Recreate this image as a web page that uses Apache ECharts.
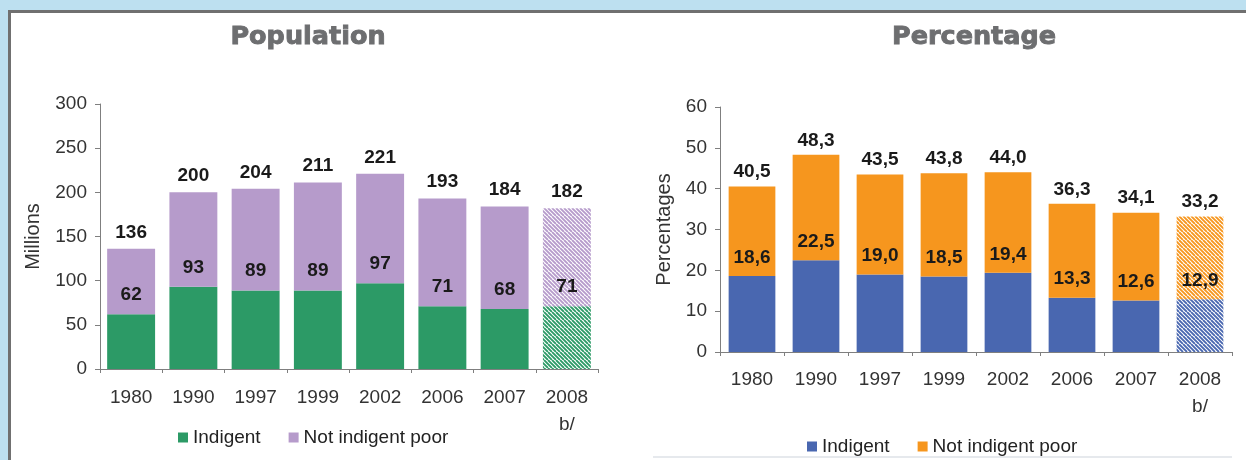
<!DOCTYPE html>
<html><head><meta charset="utf-8">
<script src="https://cdn.jsdelivr.net/npm/echarts@6/dist/echarts.min.js"></script>
<style>
html,body{margin:0;padding:0;width:1246px;height:460px;overflow:hidden;background:#bde0f0;}
#panel{position:absolute;left:8px;top:10px;right:0;bottom:0;background:#fff;border-left:3px solid #707070;border-top:3px solid #707070;}
#c1{position:absolute;left:0;top:0;width:623px;height:460px;}
#c2{position:absolute;left:623px;top:0;width:623px;height:460px;}
</style></head><body>
<div id="panel"></div>
<div id="c1"></div>
<div id="c2"></div>
<script>
// ---- data ----
const years = ['1980', '1990', '1997', '1999', '2002', '2006', '2007', '2008\nb/'];
const projected = [false, false, false, false, false, false, false, true];
const popIndigent = [62, 93, 89, 89, 97, 71, 68, 71];
const popTotal = [136, 200, 204, 211, 221, 193, 184, 182];
const pctIndigent = [18.6, 22.5, 19.0, 18.5, 19.4, 13.3, 12.6, 12.9];
const pctTotal = [40.5, 48.3, 43.5, 43.8, 44.0, 36.3, 34.1, 33.2];
const popTicks = [0, 50, 100, 150, 200, 250, 300];
const pctTicks = [0, 10, 20, 30, 40, 50, 60];
const seriesNames = ['Indigent', 'Not indigent poor'];

const FONT = '"Liberation Sans", Arial, sans-serif';

function hatch(color) {
  const c = document.createElement('canvas');
  c.width = 8; c.height = 8;
  const g = c.getContext('2d');
  g.fillStyle = '#ffffff'; g.fillRect(0, 0, 8, 8);
  g.strokeStyle = color; g.lineWidth = 1.9;
  g.beginPath();
  for (let k = -12; k <= 12; k += 4) { g.moveTo(k, 0); g.lineTo(k + 8, 8); }
  g.stroke();
  return { image: c, repeat: 'repeat' };
}

function fmtPct(v) { return v.toFixed(1).replace('.', ','); }

function build(cfg) {
  const lower = cfg.indigent.map((v, i) => projected[i]
    ? { value: v, itemStyle: { color: hatch(cfg.c1) } } : v);
  const upper = cfg.total.map((t, i) => {
    const v = +(t - cfg.indigent[i]).toFixed(2);
    return projected[i] ? { value: v, itemStyle: { color: hatch(cfg.c2) } } : v;
  });
  return {
    animation: false,
    graphic: [
      { type: 'text', x: cfg.titleX, y: 37, style: { text: cfg.title, textAlign: 'center', textVerticalAlign: 'middle', font: 'bold 25.5px "DejaVu Sans"', fill: '#6d6e70', stroke: '#6d6e70', lineWidth: 0.9 } }
    ].concat(cfg.extraGraphic || []),
    legend: {
      data: seriesNames, left: cfg.legendLeft, top: cfg.legendTop, padding: 0,
      icon: 'rect', itemWidth: 10, itemHeight: 10, itemGap: 28,
      textStyle: { fontFamily: FONT, fontSize: 19, color: '#222' }
    },
    grid: { left: cfg.gridLeft, right: cfg.gridRight, top: cfg.gridTop, bottom: cfg.gridBottom },
    xAxis: {
      type: 'category', data: years,
      axisLine: { lineStyle: { color: '#7f7f7f', width: 1 } },
      axisTick: { show: true, length: 4, lineStyle: { color: '#7f7f7f' } },
      axisLabel: { fontFamily: FONT, fontSize: 19, color: '#333', margin: cfg.xMargin, lineHeight: 27 }
    },
    yAxis: {
      type: 'value', min: cfg.ticks[0], max: cfg.ticks[cfg.ticks.length - 1], interval: cfg.ticks[1] - cfg.ticks[0],
      name: cfg.yName, nameLocation: 'middle', nameGap: cfg.nameGap,
      nameTextStyle: { fontFamily: FONT, fontSize: 20, color: '#333' },
      axisLine: { show: true, lineStyle: { color: '#7f7f7f' } },
      axisTick: { show: true, length: 5, lineStyle: { color: '#7f7f7f' } },
      splitLine: { show: false },
      axisLabel: { fontFamily: FONT, fontSize: 19, color: '#333', margin: 13 }
    },
    series: [
      {
        name: seriesNames[0], type: 'bar', stack: 's', barWidth: cfg.barWidth,
        itemStyle: { color: cfg.c1 }, data: lower,
        label: { show: true, position: 'top', distance: cfg.innerDist, fontFamily: FONT, fontSize: 19, fontWeight: 'bold', color: '#1a1a1a',
          formatter: p => cfg.fmt(cfg.indigent[p.dataIndex]) }
      },
      {
        name: seriesNames[1], type: 'bar', stack: 's', barWidth: cfg.barWidth,
        itemStyle: { color: cfg.c2 }, data: upper,
        label: { show: true, position: 'top', distance: cfg.topDist, fontFamily: FONT, fontSize: 19, fontWeight: 'bold', color: '#1a1a1a',
          formatter: p => cfg.fmt(cfg.total[p.dataIndex]) }
      }
    ]
  };
}

const chart1 = echarts.init(document.getElementById('c1'), null, { renderer: 'canvas' });
chart1.setOption(build({
  title: 'Population', titleX: 308,
  indigent: popIndigent, total: popTotal, ticks: popTicks, fmt: v => String(v),
  c1: '#2c9a66', c2: '#b69bcb',
  gridLeft: 100, gridRight: 25, gridTop: 104, gridBottom: 91,
  legendLeft: 178, legendTop: 428, yName: 'Millions', nameGap: 57,
  xMargin: 15, barWidth: '77%', innerDist: 10, topDist: 7
}));

const chart2 = echarts.init(document.getElementById('c2'), null, { renderer: 'canvas' });
chart2.setOption(build({
  title: 'Percentage', titleX: 351,
  indigent: pctIndigent, total: pctTotal, ticks: pctTicks, fmt: fmtPct,
  c1: '#4967b0', c2: '#f6961e',
  gridLeft: 97, gridRight: 14, gridTop: 107, gridBottom: 108,
  legendLeft: 184, legendTop: 437, yName: 'Percentages', nameGap: 46,
  xMargin: 14, barWidth: '73%', innerDist: 9, topDist: 5,
  extraGraphic: [{ type: 'rect', shape: { x: 30, y: 456, width: 579, height: 2 }, style: { fill: '#e6e9ed' } }]
}));
</script>
</body></html>
